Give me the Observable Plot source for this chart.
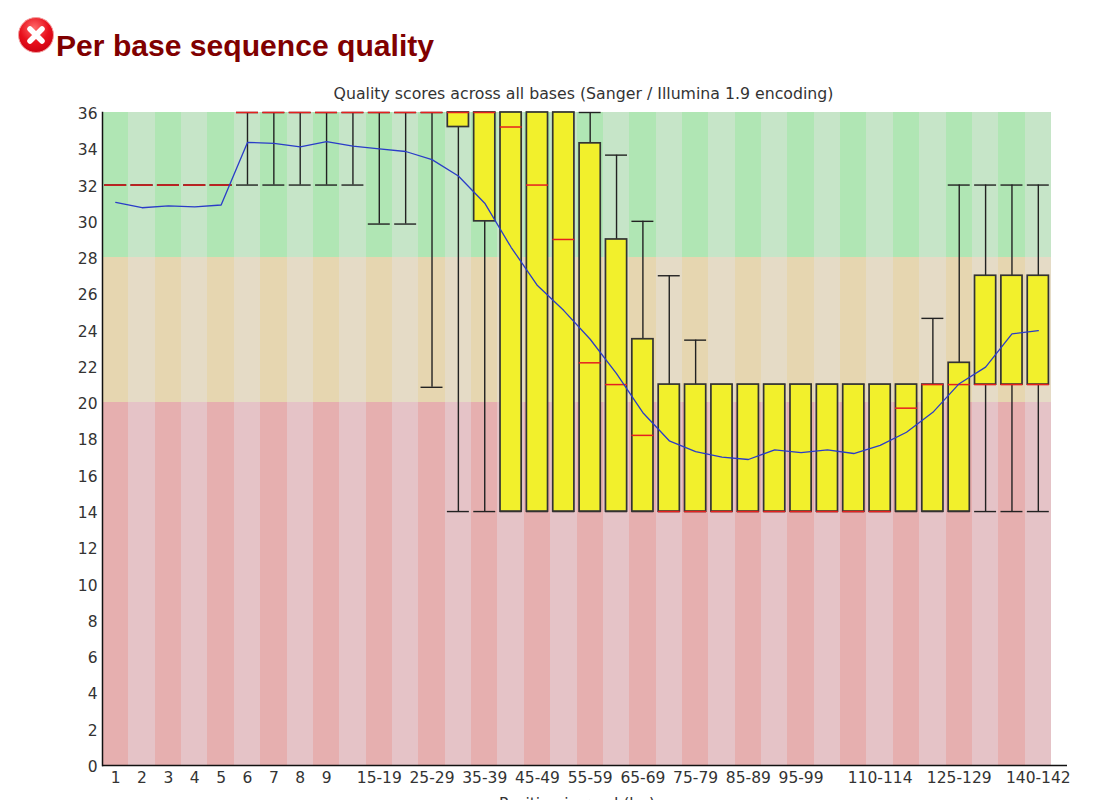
<!DOCTYPE html>
<html>
<head>
<meta charset="utf-8">
<script src="https://cdn.jsdelivr.net/npm/d3@7"></script>
<script src="https://cdn.jsdelivr.net/npm/@observablehq/plot@0.6"></script>
<style>
html,body{margin:0;padding:0;background:#fff;width:1103px;height:800px;overflow:hidden}
#wrap{position:relative;width:1103px;height:800px;overflow:hidden}
#icon{position:absolute;left:17px;top:16px}
h2{position:absolute;left:56px;top:29px;margin:0;font:bold 30.1px "Liberation Sans",sans-serif;color:#800000;white-space:nowrap}
#sub{position:absolute;left:0;width:1167px;top:84px;text-align:center;font:15.75px "DejaVu Sans",sans-serif;color:#333;white-space:nowrap}
#chart{position:absolute;left:0;top:102px}
svg{display:block}
</style>
</head>
<body>
<div id="wrap">
<svg id="icon" width="38" height="38" viewBox="0 0 38 38">
<defs><radialGradient id="g" cx="45%" cy="30%" r="75%"><stop offset="0" stop-color="#ff6a6a"/><stop offset=".55" stop-color="#e8101c"/><stop offset="1" stop-color="#c80010"/></radialGradient></defs>
<circle cx="19" cy="19" r="17.5" fill="url(#g)" stroke="#f4a0a0" stroke-width="1"/>
<path d="M13 13L25 25M25 13L13 25" stroke="#fff" stroke-width="5.5" stroke-linecap="round"/>
</svg>
<h2>Per base sequence quality</h2>
<div id="sub">Quality scores across all bases (Sanger / Illumina 1.9 encoding)</div>
<div id="chart"></div>
</div>
<script>
const categories = ["1","2","3","4","5","6","7","8","9","10-14","15-19","20-24","25-29","30-34","35-39","40-44","45-49","50-54","55-59","60-64","65-69","70-74","75-79","80-84","85-89","90-94","95-99","100-104","105-109","110-114","115-119","120-124","125-129","130-134","135-139","140-142"];
const shownLabels = ["1","2","3","4","5","6","7","8","9","15-19","25-29","35-39","45-49","55-59","65-69","75-79","85-89","95-99","110-114","125-129","140-142"];
const whiskerLow = [32,32,32,32,32,32,32,32,32,32,29.85,29.85,20.85,14,14,14,14,14,14,14,14,14,14,14,14,14,14,14,14,14,14,14,14,14,14,14];
const q1 =         [32,32,32,32,32,36,36,36,36,36,36,36,36,35.2,30,14,14,14,14,14,14,14,14,14,14,14,14,14,14,14,14,14,14,21,21,21];
const median =     [32,32,32,32,32,36,36,36,36,36,36,36,36,36,36,35.2,32,29,22.2,21,18.2,14,14,14,14,14,14,14,14,14,19.7,21,21,21,21,21];
const q3 =         [32,32,32,32,32,36,36,36,36,36,36,36,36,36,36,36,36,36,34.3,29,23.5,21,21,21,21,21,21,21,21,21,21,21,22.2,27,27,27];
const whiskerHigh =[32,32,32,32,32,36,36,36,36,36,36,36,36,36,36,36,36,36,36,33.65,30,27,23.45,21,21,21,21,21,21,21,21,24.65,32,32,32,32];
const mean = [31.05,30.75,30.85,30.8,30.9,34.35,34.3,34.1,34.4,34.15,34.0,33.85,33.4,32.5,31,28.57,26.46,25.08,23.5,21.6,19.45,17.9,17.3,17.0,16.87,17.4,17.25,17.4,17.2,17.65,18.37,19.47,21.05,21.96,23.8,23.97];
const zoneNames = ["poor","fair","good"];
const zoneLow = [0,20,28];
const zoneHigh = [20,28,36];

const rows = categories.map((c,i)=>({c,low:whiskerLow[i],q1:q1[i],med:median[i],q3:q3[i],high:whiskerHigh[i],mean:mean[i]}));
const zones = categories.flatMap((c,i)=>zoneNames.map((z,j)=>({c,y1:zoneLow[j],y2:zoneHigh[j],key:z+(i%2?"-light":"-dark")})));

const W = 1103, B = 2.2;
document.getElementById("chart").appendChild(Plot.plot({
  width:W, height:716,
  marginLeft:102, marginRight:52, marginTop:10, marginBottom:53,
  style:{fontFamily:"DejaVu Sans, sans-serif",fontSize:"15px",color:"#333",background:"transparent",overflow:"visible"},
  x:{type:"band",domain:categories,padding:0,round:false,label:null},
  y:{domain:[0,36],label:null},
  color:{type:"ordinal",
    domain:["good-dark","good-light","fair-dark","fair-light","poor-dark","poor-light"],
    range:["#b0e6b4","#c6e5c8","#e6d6b0","#e5dbc6","#e6afaf","#e5c3c7"]},
  marks:[
    Plot.barY(zones,{x:"c",y1:"y1",y2:"y2",fill:"key",shapeRendering:"crispEdges"}),
    Plot.ruleX(rows,{x:"c",y1:"low",y2:"high",stroke:"#222",strokeWidth:1.4}),
    Plot.tickY(rows,{x:"c",y:"low",stroke:"#222",strokeWidth:1.4,insetLeft:B,insetRight:B}),
    Plot.tickY(rows,{x:"c",y:"high",stroke:"#222",strokeWidth:1.4,insetLeft:B,insetRight:B}),
    Plot.barY(rows,{x:"c",y1:"q1",y2:"q3",fill:"#f2f02c",stroke:"#333",strokeWidth:1.7,insetLeft:2.6,insetRight:2.6}),
    Plot.tickY(rows,{x:"c",y:"med",stroke:"#e52020",strokeWidth:1.5,insetLeft:B,insetRight:B}),
    Plot.line(rows,{x:"c",y:"mean",stroke:"#2a3cc8",strokeWidth:1.3}),
    Plot.axisY({ticks:d3.range(0,37,2),tickSize:0,tickPadding:5,label:null,fontSize:15.5,dy:1.5}),
    Plot.axisX({tickSize:0,tickPadding:6,tickRotate:0,ticks:shownLabels,label:"Position in read (bp)",labelAnchor:"center",labelArrow:"none",labelOffset:43,fontSize:15.5}),
    Plot.ruleY([0],{stroke:"#111",strokeWidth:1.5,insetRight:-16}),
    Plot.frame({anchor:"left",stroke:"#111",strokeWidth:1.5})
  ]
}));
</script>
</body>
</html>
